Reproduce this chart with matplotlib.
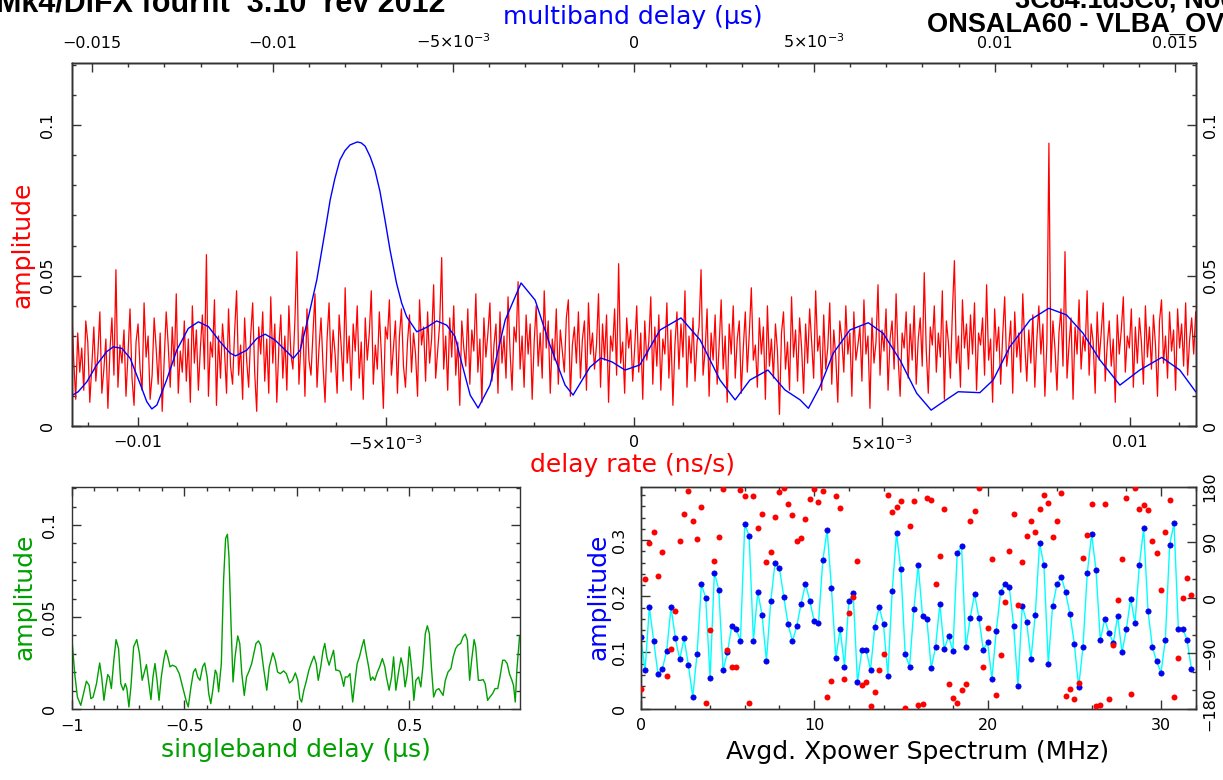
import numpy as np
import matplotlib
matplotlib.use("Agg")
import matplotlib.pyplot as plt
from matplotlib.ticker import FixedLocator, MultipleLocator

plt.rcParams['font.family'] = ['DejaVu Sans']
plt.rcParams['mathtext.fontset'] = 'dejavusans'
plt.rcParams['mathtext.default'] = 'regular'

# ---------------- data ----------------
# delay-rate spectrum (red), amplitude values read across the panel (left to right)
rate_amp = [
    0.040, 0.022, 0.009, 0.031, 0.018, 0.026, 0.012, 0.035, 0.028, 0.008, 0.020, 0.033, 0.015, 0.024,
    0.038, 0.011, 0.019, 0.029, 0.006, 0.025, 0.036, 0.017, 0.052, 0.013, 0.027, 0.021, 0.032, 0.010,
    0.024, 0.039, 0.016, 0.007, 0.028, 0.034, 0.019, 0.012, 0.041, 0.023, 0.030, 0.009, 0.017, 0.036,
    0.026, 0.014, 0.031, 0.005, 0.022, 0.038, 0.027, 0.013, 0.033, 0.020, 0.044, 0.011, 0.025, 0.018,
    0.035, 0.015, 0.029, 0.008, 0.040, 0.021, 0.032, 0.012, 0.026, 0.037, 0.019, 0.057, 0.010, 0.028,
    0.023, 0.042, 0.007, 0.030, 0.016, 0.034, 0.025, 0.011, 0.039, 0.020, 0.014, 0.031, 0.045, 0.017,
    0.027, 0.009, 0.036, 0.022, 0.013, 0.030, 0.041, 0.018, 0.005, 0.033, 0.024, 0.038, 0.015, 0.029,
    0.011, 0.043, 0.021, 0.034, 0.008, 0.026, 0.037, 0.016, 0.030, 0.012, 0.040, 0.024, 0.019, 0.035,
    0.058, 0.014, 0.027, 0.033, 0.010, 0.039, 0.022, 0.017, 0.031, 0.044, 0.013, 0.026, 0.036, 0.020,
    0.008, 0.029, 0.041, 0.018, 0.032, 0.024, 0.011, 0.037, 0.027, 0.015, 0.046, 0.021, 0.030, 0.012,
    0.034, 0.025, 0.040, 0.016, 0.028, 0.009, 0.036, 0.022, 0.031, 0.045, 0.014, 0.027, 0.019, 0.038,
    0.024, 0.006, 0.033, 0.029, 0.042, 0.017, 0.026, 0.035, 0.011, 0.030, 0.039, 0.020, 0.013, 0.028,
    0.037, 0.018, 0.031, 0.024, 0.010, 0.042, 0.027, 0.033, 0.015, 0.038, 0.021, 0.029, 0.047, 0.016,
    0.025, 0.034, 0.056, 0.019, 0.030, 0.012, 0.036, 0.023, 0.040, 0.017, 0.028, 0.007, 0.035, 0.026,
    0.020, 0.039, 0.014, 0.032, 0.025, 0.044, 0.018, 0.029, 0.008, 0.036, 0.023, 0.031, 0.041, 0.015,
    0.027, 0.034, 0.011, 0.038, 0.021, 0.030, 0.016, 0.043, 0.025, 0.012, 0.033, 0.028, 0.048, 0.019,
    0.030, 0.013, 0.037, 0.024, 0.034, 0.009, 0.028, 0.040, 0.020, 0.031, 0.016, 0.045, 0.026, 0.035,
    0.011, 0.029, 0.022, 0.039, 0.014, 0.032, 0.025, 0.018, 0.036, 0.042, 0.010, 0.027, 0.033, 0.021,
    0.038, 0.016, 0.029, 0.035, 0.012, 0.041, 0.024, 0.031, 0.019, 0.027, 0.044, 0.013, 0.034, 0.022,
    0.037, 0.008, 0.030, 0.025, 0.039, 0.017, 0.054, 0.021, 0.028, 0.011, 0.036, 0.026, 0.032, 0.015,
    0.026, 0.040, 0.018, 0.031, 0.009, 0.035, 0.022, 0.028, 0.043, 0.014, 0.033, 0.020, 0.037, 0.012,
    0.029, 0.024, 0.041, 0.016, 0.032, 0.007, 0.027, 0.038, 0.019, 0.034, 0.023, 0.045, 0.013, 0.030,
    0.021, 0.036, 0.015, 0.028, 0.033, 0.052, 0.017, 0.025, 0.039, 0.010, 0.031, 0.022, 0.037, 0.014,
    0.027, 0.042, 0.019, 0.030, 0.008, 0.034, 0.024, 0.040, 0.016, 0.029, 0.035, 0.011, 0.026, 0.038,
    0.018, 0.031, 0.046, 0.022, 0.027, 0.013, 0.036, 0.024, 0.033, 0.009, 0.040, 0.020, 0.029, 0.016,
    0.034, 0.025, 0.004, 0.031, 0.038, 0.019, 0.028, 0.012, 0.043, 0.023, 0.032, 0.015, 0.036, 0.026,
    0.011, 0.034, 0.021, 0.039, 0.028, 0.016, 0.045, 0.025, 0.030, 0.012, 0.037, 0.019, 0.026, 0.041,
    0.014, 0.032, 0.023, 0.008, 0.035, 0.029, 0.018, 0.040, 0.024, 0.031, 0.010, 0.038, 0.022, 0.027,
    0.033, 0.015, 0.042, 0.024, 0.030, 0.006, 0.036, 0.021, 0.028, 0.047, 0.017, 0.032, 0.025, 0.039,
    0.012, 0.029, 0.035, 0.019, 0.044, 0.023, 0.010, 0.031, 0.026, 0.038, 0.016, 0.034, 0.022, 0.040,
    0.014, 0.029, 0.036, 0.020, 0.051, 0.025, 0.011, 0.033, 0.027, 0.040, 0.018, 0.031, 0.023, 0.045,
    0.009, 0.035, 0.028, 0.016, 0.038, 0.055, 0.021, 0.030, 0.013, 0.042, 0.026, 0.034, 0.019, 0.037,
    0.024, 0.041, 0.012, 0.031, 0.027, 0.036, 0.017, 0.047, 0.022, 0.029, 0.008, 0.039, 0.025, 0.033,
    0.014, 0.030, 0.043, 0.020, 0.026, 0.035, 0.011, 0.038, 0.023, 0.031, 0.018, 0.044, 0.027, 0.015,
    0.032, 0.021, 0.037, 0.013, 0.029, 0.040, 0.024, 0.034, 0.010, 0.028, 0.094, 0.018, 0.035, 0.026,
    0.012, 0.031, 0.039, 0.020, 0.058, 0.016, 0.027, 0.036, 0.009, 0.033, 0.024, 0.042, 0.019, 0.030,
    0.025, 0.045, 0.017, 0.034, 0.028, 0.011, 0.038, 0.022, 0.031, 0.041, 0.015, 0.027, 0.035, 0.020,
    0.029, 0.008, 0.037, 0.024, 0.032, 0.043, 0.018, 0.030, 0.026, 0.039, 0.013, 0.033, 0.021, 0.036,
    0.028, 0.014, 0.040, 0.023, 0.033, 0.019, 0.037, 0.027, 0.010, 0.035, 0.042, 0.021, 0.030, 0.016,
    0.038, 0.025, 0.032, 0.012, 0.039, 0.026, 0.034, 0.020, 0.041, 0.017, 0.029, 0.036, 0.024, 0.038,
]
rate_range = (-0.01133, 0.01133)          # delay rate (ns/s) axis span

# multiband delay function (blue)
mbd_x = [
    -0.01557, -0.01539, -0.01515, -0.01488, -0.01460, -0.01442, -0.01418, -0.01395, -0.01368, -0.01349,
    -0.01335, -0.01321, -0.01294, -0.01266, -0.01234, -0.01206, -0.01178, -0.01146, -0.01118, -0.01103,
    -0.01072, -0.01044, -0.01021, -0.00994, -0.00961, -0.00943, -0.00924, -0.00901, -0.00878, -0.00864,
    -0.00852, -0.00841, -0.00828, -0.00814, -0.00800, -0.00786, -0.00766, -0.00755, -0.00744, -0.00730,
    -0.00717, -0.00703, -0.00689, -0.00675, -0.00657, -0.00643, -0.00629,
    -0.00601, -0.00573, -0.00546, -0.00518, -0.00495, -0.00481, -0.00453, -0.00431, -0.00398, -0.00356,
    -0.00312, -0.00273, -0.00232, -0.00190, -0.00168, -0.00121, -0.00091, -0.00060, -0.00024, 0.00017,
    0.00073, 0.00131, 0.00184, 0.00239, 0.00281, 0.00322, 0.00372, 0.00419, 0.00461, 0.00484,
    0.00516, 0.00553, 0.00599, 0.00650, 0.00691, 0.00738, 0.00784, 0.00824, 0.00858, 0.00899,
    0.00959, 0.00996, 0.01042, 0.01098, 0.01150, 0.01199, 0.01245, 0.01292, 0.01347, 0.01402,
    0.01463, 0.01513, 0.01557,
]
mbd_amp = [
    0.0102, 0.0115, 0.0148, 0.0204, 0.0248, 0.0264, 0.0259, 0.0226, 0.0143, 0.0082,
    0.0058, 0.0071, 0.0154, 0.0253, 0.0325, 0.0347, 0.0331, 0.0281, 0.0243, 0.0234,
    0.0253, 0.0292, 0.0306, 0.0287, 0.0248, 0.0226, 0.0253, 0.0364, 0.0486, 0.0585,
    0.0670, 0.0751, 0.0822, 0.0884, 0.0915, 0.0934, 0.0944, 0.0941, 0.0930, 0.0895,
    0.0851, 0.0780, 0.0685, 0.0585, 0.0475, 0.0410, 0.0364,
    0.0314, 0.0329, 0.0350, 0.0336, 0.0298, 0.0231, 0.0104, 0.0061, 0.0137, 0.0353,
    0.0476, 0.0419, 0.0270, 0.0137, 0.0104, 0.0197, 0.0227, 0.0214, 0.0187, 0.0204,
    0.0320, 0.0360, 0.0287, 0.0154, 0.0088, 0.0154, 0.0187, 0.0121, 0.0088, 0.0060,
    0.0132, 0.0243, 0.0320, 0.0344, 0.0309, 0.0220, 0.0110, 0.0054, 0.0082, 0.0115,
    0.0112, 0.0154, 0.0264, 0.0353, 0.0392, 0.0370, 0.0309, 0.0220, 0.0137, 0.0187,
    0.0229, 0.0187, 0.0115,
]

# singleband delay function (green)
sbd_x = [
    -1.000, -0.988, -0.976, -0.961, -0.949, -0.936, -0.924, -0.916, -0.906, -0.891,
    -0.877, -0.868, -0.858, -0.850, -0.841, -0.834, -0.825, -0.814, -0.804, -0.793,
    -0.783, -0.772, -0.763, -0.756, -0.747, -0.738, -0.726, -0.712, -0.700, -0.688,
    -0.678, -0.669, -0.660, -0.649, -0.640, -0.631, -0.622, -0.613, -0.603, -0.592,
    -0.583, -0.574, -0.564, -0.553, -0.538, -0.523, -0.508, -0.493, -0.483, -0.471,
    -0.460, -0.451, -0.441, -0.431, -0.419, -0.410, -0.399, -0.392, -0.383, -0.374,
    -0.363, -0.356, -0.348, -0.336, -0.326, -0.317, -0.309, -0.302, -0.293, -0.284,
    -0.275, -0.263, -0.254, -0.245, -0.234, -0.224, -0.213, -0.201, -0.182, -0.171,
    -0.161, -0.149, -0.134, -0.123, -0.107, -0.096, -0.086, -0.074, -0.059, -0.047,
    -0.033, -0.020, -0.007, 0.004, 0.013, 0.021, 0.031, 0.041, 0.053, 0.064,
    0.076, 0.086, 0.095, 0.106, 0.116, 0.124, 0.133, 0.143, 0.154, 0.163,
    0.173, 0.181, 0.191, 0.199, 0.208, 0.215, 0.226, 0.236, 0.248, 0.259,
    0.268, 0.278, 0.289, 0.298, 0.308, 0.319, 0.328, 0.337, 0.346, 0.358,
    0.368, 0.380, 0.391, 0.398, 0.410, 0.421, 0.430, 0.440, 0.451, 0.463,
    0.472, 0.481, 0.491, 0.500, 0.511, 0.520, 0.529, 0.541, 0.551, 0.560,
    0.571, 0.580, 0.589, 0.598, 0.608, 0.619, 0.631, 0.640, 0.650, 0.660,
    0.672, 0.685, 0.695, 0.706, 0.716, 0.728, 0.739, 0.749, 0.758, 0.768,
    0.777, 0.788, 0.795, 0.807, 0.818, 0.828, 0.837, 0.848, 0.858, 0.870,
    0.881, 0.893, 0.903, 0.915, 0.924, 0.935, 0.945, 0.956, 0.963, 0.971,
    0.978, 0.990,
]
sbd_amp = [
    0.0377, 0.0193, 0.0065, 0.0020, 0.0083, 0.0151, 0.0129, 0.0056, 0.0065, 0.0138,
    0.0250, 0.0174, 0.0047, 0.0120, 0.0187, 0.0174, 0.0111, 0.0265, 0.0377, 0.0328,
    0.0138, 0.0102, 0.0138, 0.0111, 0.0011, 0.0120, 0.0338, 0.0377, 0.0301, 0.0156,
    0.0201, 0.0241, 0.0156, 0.0051, 0.0174, 0.0247, 0.0156, 0.0047, 0.0174, 0.0265,
    0.0319, 0.0283, 0.0229, 0.0238, 0.0229, 0.0192, 0.0120, 0.0047, 0.0011, 0.0120,
    0.0201, 0.0219, 0.0174, 0.0156, 0.0229, 0.0250, 0.0174, 0.0083, 0.0029, 0.0102,
    0.0211, 0.0192, 0.0093, 0.0247, 0.0701, 0.0927, 0.0949, 0.0827, 0.0465, 0.0147,
    0.0283, 0.0397, 0.0356, 0.0192, 0.0074, 0.0174, 0.0205, 0.0247, 0.0356, 0.0370,
    0.0347, 0.0229, 0.0102, 0.0229, 0.0305, 0.0265, 0.0201, 0.0192, 0.0207, 0.0192,
    0.0141, 0.0156, 0.0196, 0.0156, 0.0056, 0.0038, 0.0102, 0.0147, 0.0210, 0.0250,
    0.0287, 0.0247, 0.0156, 0.0229, 0.0316, 0.0356, 0.0283, 0.0238, 0.0283, 0.0319,
    0.0211, 0.0211, 0.0205, 0.0174, 0.0123, 0.0174, 0.0174, 0.0192, 0.0038, 0.0156,
    0.0247, 0.0283, 0.0338, 0.0377, 0.0301, 0.0229, 0.0156, 0.0174, 0.0156, 0.0201,
    0.0229, 0.0274, 0.0229, 0.0174, 0.0102, 0.0174, 0.0283, 0.0102, 0.0192, 0.0278,
    0.0229, 0.0120, 0.0192, 0.0338, 0.0211, 0.0047, 0.0156, 0.0174, 0.0120, 0.0229,
    0.0410, 0.0452, 0.0410, 0.0229, 0.0065, 0.0102, 0.0111, 0.0093, 0.0074, 0.0156,
    0.0201, 0.0220, 0.0283, 0.0329, 0.0347, 0.0356, 0.0392, 0.0407, 0.0374, 0.0156,
    0.0265, 0.0377, 0.0338, 0.0156, 0.0156, 0.0160, 0.0138, 0.0047, 0.0065, 0.0083,
    0.0111, 0.0111, 0.0174, 0.0265, 0.0265, 0.0247, 0.0192, 0.0156, 0.0129, 0.0038,
    0.0210, 0.0396,
]

# averaged cross-power spectrum: 128 channels of 0.25 MHz
spec_freq = np.arange(128) * 0.25
spec_amp = [
    0.128, 0.068, 0.181, 0.120, 0.061, 0.071, 0.103, 0.181, 0.125, 0.088,
    0.125, 0.078, 0.021, 0.098, 0.221, 0.197, 0.054, 0.242, 0.212, 0.068,
    0.100, 0.147, 0.142, 0.121, 0.328, 0.308, 0.121, 0.208, 0.166, 0.085,
    0.192, 0.260, 0.250, 0.199, 0.150, 0.120, 0.147, 0.187, 0.222, 0.192,
    0.156, 0.152, 0.264, 0.318, 0.214, 0.090, 0.142, 0.075, 0.191, 0.205,
    0.047, 0.104, 0.104, 0.069, 0.146, 0.181, 0.150, 0.059, 0.209, 0.312,
    0.248, 0.097, 0.075, 0.177, 0.255, 0.165, 0.159, 0.072, 0.110, 0.186,
    0.106, 0.129, 0.103, 0.277, 0.289, 0.109, 0.162, 0.204, 0.162, 0.105,
    0.118, 0.053, 0.138, 0.207, 0.222, 0.217, 0.148, 0.041, 0.183, 0.155,
    0.088, 0.167, 0.295, 0.255, 0.080, 0.183, 0.221, 0.235, 0.207, 0.168,
    0.116, 0.038, 0.110, 0.242, 0.311, 0.247, 0.122, 0.159, 0.135, 0.117,
    0.165, 0.100, 0.141, 0.196, 0.152, 0.255, 0.321, 0.174, 0.110, 0.084,
    0.064, 0.123, 0.292, 0.330, 0.142, 0.142, 0.123, 0.071,
]
spec_phase = [
    -147.5, 29.7, 89.2, 106.5, 35.1, 74.6, -127.0, -83.2, -21.6, 91.9,
    135.1, 173.0, 124.9, 94.6, 146.5, -170.2, -52.4, 59.5, 98.9, 175.7,
    -85.4, -111.9, -112.4, 174.6, 164.3, -171.3, 164.9, 113.5, 136.2, 58.4,
    74.6, 130.8, 171.9, 177.8, 152.4, 134.1, 91.9, 97.3, 128.1, 159.5,
    175.7, 155.4, 172.7, -161.6, -135.7, 165.4, 146.0, -132.4, -25.4, 1.6,
    58.9, -141.1, -136.7, -175.6, -153.0, -116.7, -91.9, 165.9, 138.9, 146.5,
    157.3, -179.4, 116.2, 157.3, -174.6, -173.0, 161.1, 158.4, 21.6, 67.0,
    143.2, -139.4, -163.2, -170.2, -150.2, -140.5, 124.9, 140.5, 177.3, -111.9,
    -48.6, 62.7, -157.8, -92.4, -7.6, 75.1, 135.1, -11.3, 57.8, 100.5,
    124.9, 107.0, 143.2, 167.0, 153.0, 97.8, 124.9, 170.3, -158.9, -148.6,
    -164.3, -138.4, 64.9, 101.6, 151.4, -175.1, -174.0, 151.4, -164.3, -76.7,
    -3.8, 62.7, 161.1, -156.7, 177.8, 143.2, 150.3, 141.6, 92.4, 73.0,
    11.9, 107.0, 158.4, -161.1, -97.8, -0.5, 31.9, 4.3,
]

# tick labels
rate_ticks = [-0.01, -0.005, 0.0, 0.005, 0.01]
rate_labels = ['\u22120.01', r'$-5{\times}10^{-3}$', '0', r'$5{\times}10^{-3}$', '0.01']
mbd_ticks = [-0.015, -0.01, -0.005, 0.0, 0.005, 0.01, 0.015]
mbd_labels = ['\u22120.015', '\u22120.01', r'$-5{\times}10^{-3}$', '0', r'$5{\times}10^{-3}$', '0.01', '0.015']
amp_ticks = [0.0, 0.05, 0.1]
amp_labels = ['0', '0.05', '0.1']
sbd_ticks = [-1.0, -0.5, 0.0, 0.5]
sbd_labels = ['\u22121', '\u22120.5', '0', '0.5']
spec_ticks = [0, 10, 20, 30]
spec_amp_ticks = [0.0, 0.1, 0.2, 0.3]
spec_amp_labels = ['0', '0.1', '0.2', '0.3']
phase_ticks = [-180, -90, 0, 90, 180]
phase_labels = ['\u2212180', '\u221290', '0', '90', '180']

# ---------------- figure ----------------
W, H = 1223, 780
fig = plt.figure(figsize=(W / 100, H / 100), dpi=100)
fig.patch.set_facecolor('white')

def rect(x0, y0, x1, y1):
    return [x0 / W, 1 - y1 / H, (x1 - x0) / W, (y1 - y0) / H]

TICK_FS = 11.5
LAB_FS = 18
FRAME = '#333333'

def style(ax):
    for s in ax.spines.values():
        s.set_color(FRAME)
        s.set_linewidth(1.0)
    ax.tick_params(which='both', direction='in', colors=FRAME, labelcolor='black',
                   labelsize=TICK_FS, width=1.0)
    ax.tick_params(which='major', length=6.5)
    ax.tick_params(which='minor', length=3)

def vlabels(ax, ticks, labels, side='left', pad=10):
    ax.yaxis.set_major_locator(FixedLocator(ticks))
    ax.set_yticklabels(labels)
    ax.tick_params(axis='y', which='major', pad=pad)
    for t in ax.yaxis.get_major_ticks():
        lab = t.label1 if side == 'left' else t.label2
        lab.set_rotation(90)
        lab.set_va('center')
        lab.set_ha('right' if side == 'left' else 'left')

# ---- top panel ----
ax = fig.add_axes(rect(71.7, 63, 1195.7, 426.4))
style(ax)
rate_x = np.linspace(rate_range[0], rate_range[1], len(rate_amp))
ax.plot(rate_x, rate_amp, color='#ff0000', lw=0.9)
ax.set_xlim(*rate_range)
ax.set_ylim(0, 0.1206)
ax.xaxis.set_major_locator(FixedLocator(rate_ticks))
ax.set_xticklabels(rate_labels)
ax.xaxis.set_minor_locator(MultipleLocator(0.001))
ax.yaxis.set_minor_locator(MultipleLocator(0.01))
ax.tick_params(axis='x', which='both', top=False, bottom=True, pad=6)
ax.tick_params(axis='y', which='both', left=True, right=False)
vlabels(ax, amp_ticks, amp_labels, side='left', pad=12)

axr = ax.twinx()
style(axr)
axr.set_ylim(0, 0.1206)
axr.yaxis.set_minor_locator(MultipleLocator(0.01))
axr.tick_params(axis='y', which='both', left=False, right=True, labelleft=False, labelright=True)
vlabels(axr, amp_ticks, amp_labels, side='right', pad=5)

axt = ax.twiny()
style(axt)
axt.plot(mbd_x, mbd_amp, color='#0000ff', lw=1.0)
axt.set_xlim(-0.01557, 0.01557)
axt.xaxis.set_major_locator(FixedLocator(mbd_ticks))
axt.set_xticklabels(mbd_labels)
axt.xaxis.set_minor_locator(MultipleLocator(0.001))
axt.tick_params(axis='x', which='both', top=True, bottom=False, labeltop=True, labelbottom=False, pad=9)
axt.tick_params(axis='y', which='both', left=False, right=False)

fig.text(633 / W, 1 - 17 / H, 'multiband delay (\u00b5s)', color='#0000ff', fontsize=LAB_FS,
         ha='center', va='center')
fig.text(633 / W, 1 - 465 / H, 'delay rate (ns/s)', color='#ff0000', fontsize=LAB_FS,
         ha='center', va='center')
fig.text(22 / W, 1 - 245 / H, 'amplitude', color='#ff0000', fontsize=LAB_FS,
         ha='center', va='center', rotation=90)

# ---- bottom-left: singleband delay ----
axb = fig.add_axes(rect(72, 487, 520, 709))
style(axb)
axb.plot(sbd_x, sbd_amp, color='#00a000', lw=1.0)
axb.set_xlim(-1.0, 0.992)
axb.set_ylim(0, 0.1206)
axb.xaxis.set_major_locator(FixedLocator(sbd_ticks))
axb.set_xticklabels(sbd_labels)
axb.xaxis.set_minor_locator(MultipleLocator(0.1))
axb.yaxis.set_minor_locator(MultipleLocator(0.01))
axb.tick_params(which='both', top=True, right=True)
axb.tick_params(axis='x', pad=7)
vlabels(axb, amp_ticks, amp_labels, side='left', pad=11)
fig.text(296 / W, 1 - 750 / H, 'singleband delay (\u00b5s)', color='#00a000', fontsize=LAB_FS,
         ha='center', va='center')
fig.text(24 / W, 1 - 597 / H, 'amplitude', color='#00a000', fontsize=LAB_FS,
         ha='center', va='center', rotation=90)

# ---- bottom-right: cross-power spectrum ----
axs = fig.add_axes(rect(640.7, 486.7, 1195.7, 708.7))
style(axs)
axs.plot(spec_freq, spec_amp, color='#00ffff', lw=1.0, zorder=2)
axs.plot(spec_freq, spec_amp, 'o', color='#0000ff', ms=3.8, mec='#0000cc', mew=0.5, zorder=3)
axs.set_xlim(0, 32)
axs.set_ylim(0, 0.395)
axs.xaxis.set_major_locator(FixedLocator(spec_ticks))
axs.xaxis.set_minor_locator(MultipleLocator(2))
axs.yaxis.set_minor_locator(MultipleLocator(0.02))
axs.tick_params(which='both', top=True, right=False)
axs.tick_params(axis='x', pad=7)
vlabels(axs, spec_amp_ticks, spec_amp_labels, side='left', pad=10)

axp = axs.twinx()
style(axp)
axp.plot(spec_freq, spec_phase, 'o', color='#ff0000', ms=4.3, mec='#ff0000', mew=0, zorder=4)
axp.set_ylim(-180, 180)
axp.yaxis.set_minor_locator(MultipleLocator(30))
axp.tick_params(which='both', left=False, right=True, labelleft=False, labelright=True)
vlabels(axp, phase_ticks, phase_labels, side='right', pad=5)

fig.text(918 / W, 1 - 752 / H, 'Avgd. Xpower Spectrum (MHz)', color='black', fontsize=LAB_FS,
         ha='center', va='center')
fig.text(598 / W, 1 - 597 / H, 'amplitude', color='#0000ff', fontsize=LAB_FS,
         ha='center', va='center', rotation=90)

# ---- header texts (partially outside the canvas, as in the original) ----
fig.text(-4 / W, 1 - 12 / H, 'Mk4/DiFX fourfit  3.10  rev 2012', fontsize=22, fontweight='bold',
         family=['Liberation Sans', 'DejaVu Sans'], ha='left', va='baseline')
fig.text(1015 / W, 1 - 8 / H, '3C84.1d3C0, No0001, OV', fontsize=19.5, fontweight='bold',
         family=['Liberation Sans', 'DejaVu Sans'], ha='left', va='baseline')
fig.text(927 / W, 1 - 32 / H, 'ONSALA60 - VLBA_OV, fgroup X, pol RR', fontsize=19.5,
         fontweight='bold', family=['Liberation Sans', 'DejaVu Sans'], ha='left', va='baseline')

fig.savefig('out.png', dpi=100, facecolor='white')
